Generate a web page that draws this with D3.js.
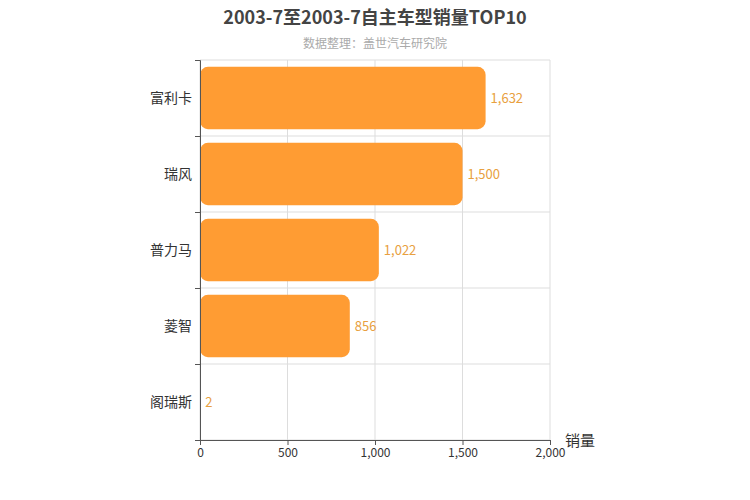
<!DOCTYPE html>
<html><head><meta charset="utf-8">
<script src="https://cdn.jsdelivr.net/npm/d3@7"></script>
<style>body{margin:0;background:#fff;font-family:"Noto Sans CJK SC","Noto Sans",sans-serif;}</style>
</head><body>
<svg id="c" width="750" height="500"></svg>
<script>
var categories = ["富利卡", "瑞风", "普力马", "菱智", "阁瑞斯"];
var values = [1632, 1500, 1022, 856, 2];
var xTicks = [0, 500, 1000, 1500, 2000];

var margin = {top: 60, left: 200, right: 200, bottom: 60};
var width = 750, height = 500;
var svg = d3.select("#c");

var x = d3.scaleLinear().domain([0, 2000]).range([margin.left, width - margin.right]);
var y = d3.scaleBand().domain(categories).range([margin.top, height - margin.bottom]).paddingInner(0.18).paddingOuter(0.09);
var bandStep = y.step();

// grid
svg.selectAll(".vg").data(xTicks).enter().append("line")
   .attr("x1", function(d) { return x(d); }).attr("x2", function(d) { return x(d); })
   .attr("y1", margin.top).attr("y2", height - margin.bottom)
   .attr("stroke", "#ddd");
svg.selectAll(".hg").data(d3.range(categories.length + 1)).enter().append("line")
   .attr("x1", margin.left).attr("x2", width - margin.right)
   .attr("y1", function(d) { return margin.top + d * bandStep; })
   .attr("y2", function(d) { return margin.top + d * bandStep; })
   .attr("stroke", "#ddd");

// bars
svg.selectAll(".bar").data(values).enter().append("rect")
   .attr("x", x(0))
   .attr("y", function(d, i) { return y(categories[i]); })
   .attr("width", function(d) { return x(d) - x(0); })
   .attr("height", y.bandwidth())
   .attr("rx", 8).attr("ry", 8)
   .attr("fill", "#ff9c33");

svg.selectAll(".lbl").data(values).enter().append("text")
   .attr("x", function(d) { return x(d) + 5; })
   .attr("y", function(d, i) { return y(categories[i]) + y.bandwidth() / 2 + 5; })
   .attr("fill", "#e8a040").attr("font-size", 13)
   .text(function(d) { return d3.format(",")(d); });

// axes
var yAxis = svg.append("g").attr("transform", "translate(" + margin.left + ",0)")
   .call(d3.axisLeft(d3.scaleLinear().domain([0, 5]).range([margin.top, height - margin.bottom])).ticks(5).tickFormat("").tickSize(5));
yAxis.select(".domain").attr("stroke", "#555");
yAxis.selectAll("line").attr("stroke", "#555");
svg.selectAll(".cat").data(categories).enter().append("text")
   .attr("x", margin.left - 8)
   .attr("y", function(d) { return y(d) + y.bandwidth() / 2 + 5; })
   .attr("text-anchor", "end").attr("font-size", 14).attr("fill", "#333")
   .text(function(d) { return d; });

var xAxis = svg.append("g").attr("transform", "translate(0," + (height - margin.bottom) + ")")
   .call(d3.axisBottom(x).tickValues(xTicks).tickFormat(d3.format(",")).tickSize(5));
xAxis.select(".domain").attr("stroke", "#555");
xAxis.selectAll("line").attr("stroke", "#555");
xAxis.selectAll("text").attr("font-size", 12).attr("fill", "#333")
   .attr("font-family", "'Noto Sans CJK SC',sans-serif");

svg.append("text").attr("x", 565).attr("y", 446).attr("font-size", 15).attr("fill", "#333").text("销量");

svg.append("text").attr("x", 375).attr("y", 24).attr("text-anchor", "middle")
   .attr("font-size", 18).attr("font-weight", "bold").attr("fill", "#444")
   .text("2003-7至2003-7自主车型销量TOP10");
svg.append("text").attr("x", 375).attr("y", 48).attr("text-anchor", "middle")
   .attr("font-size", 12).attr("fill", "#aaa")
   .text("数据整理：盖世汽车研究院");
</script>
</body></html>
